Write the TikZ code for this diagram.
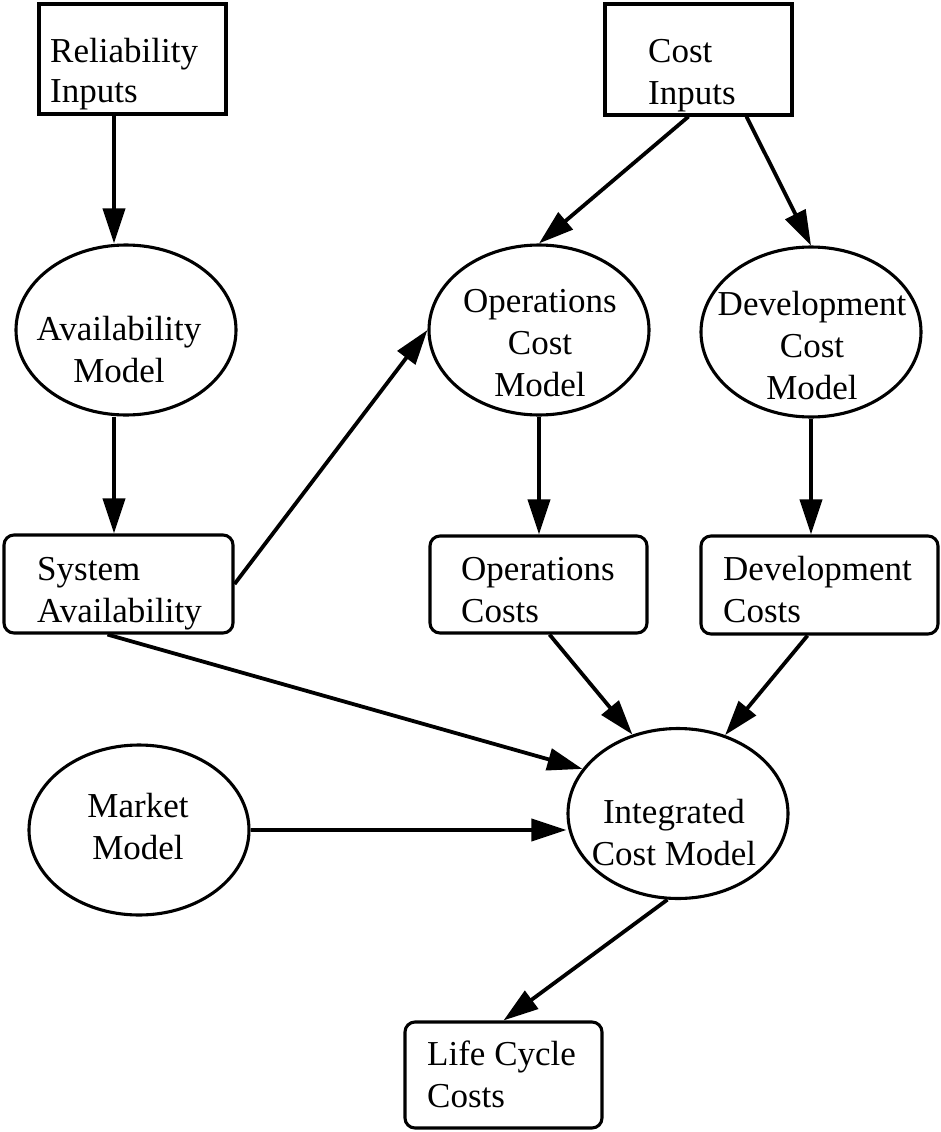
\documentclass[tikz,border=0pt]{standalone}
\usepackage{fontspec}
\setmainfont{Liberation Serif}
\usetikzlibrary{arrows.meta,shapes.geometric}

% multi-line labels whose baseline is the first line's baseline
\newcommand{\Lrows}[1]{\begin{tabular}[t]{@{}l@{}}#1\end{tabular}}
\newcommand{\Crows}[1]{\begin{tabular}[t]{@{}c@{}}#1\end{tabular}}

\begin{document}
\begin{tikzpicture}[x=1pt,y=-1pt,
  sqbox/.style={draw, line width=3.1pt, rectangle, inner sep=0pt},
  rbox/.style={draw, line width=3.1pt, rectangle, rounded corners=10pt, inner sep=0pt},
  oval/.style={draw, line width=3.1pt, ellipse, inner sep=0pt,
               minimum width=220pt, minimum height=170pt},
  txt/.style={inner sep=0pt, font=\fontsize{35}{42}\selectfont},
  arr/.style={line width=3.8pt, -{Triangle[length=35pt,width=22pt]}}
]
\useasboundingbox (0,0) rectangle (940,1132);

% inputs
\node[sqbox, minimum width=187pt, minimum height=110pt] (ri) at (132.5,59) {};
\node[txt, anchor=base west, font=\fontsize{35}{40}\selectfont] (ri-t) at (50,63) {\Lrows{Reliability\\Inputs}};
\node[sqbox, minimum width=187pt, minimum height=111pt] (ci) at (698.5,59.5) {};
\node[txt, anchor=base west] (ci-t) at (648,63) {\Lrows{Cost\\Inputs}};

% models
\node[oval] (am) at (126,330) {};
\node[txt, anchor=base] (am-t) at (119,340) {\Crows{Availability\\Model}};
\node[oval] (om) at (539,330) {};
\node[txt, anchor=base] (om-t) at (540,312) {\Crows{Operations\\Cost\\Model}};
\node[oval] (dm) at (811,332) {};
\node[txt, anchor=base] (dm-t) at (812,315) {\Crows{Development\\Cost\\Model}};

% intermediate results
\node[rbox, minimum width=229pt, minimum height=98pt] (sa) at (118.5,584) {};
\node[txt, anchor=base west] (sa-t) at (37,580) {\Lrows{System\\Availability}};
\node[rbox, minimum width=217pt, minimum height=97pt] (oc) at (538.5,584.5) {};
\node[txt, anchor=base west] (oc-t) at (461,580) {\Lrows{Operations\\Costs}};
\node[rbox, minimum width=237pt, minimum height=98pt] (dc) at (819.5,585) {};
\node[txt, anchor=base west] (dc-t) at (723,580) {\Lrows{Development\\Costs}};

% market and integration
\node[oval] (mm) at (139,830) {};
\node[txt, anchor=base] (mm-t) at (138,817) {\Crows{Market\\Model}};
\node[oval] (im) at (678,813.5) {};
\node[txt, anchor=base] (im-t) at (674,823) {\Crows{Integrated\\Cost Model}};

% output
\node[rbox, minimum width=197pt, minimum height=106pt] (lc) at (503.5,1075) {};
\node[txt, anchor=base west] (lc-t) at (427,1065) {\Lrows{Life Cycle\\Costs}};

% left column of vertical arrows
\coordinate (colA) at (114,0);

% connectors
\draw[arr] (ri.south -| colA) -- (am.north -| colA);
\draw[arr] (am.south -| colA) -- (sa.north -| colA);
\draw[arr] (sa.east) -- (om.west);
\draw[arr] ([xshift=-10pt]ci.south) -- (om.north);
\draw[arr] ([xshift=48pt]ci.south) -- (dm.north);
\draw[arr] (om.south) -- (om.south |- oc.north);
\draw[arr] (dm.south) -- (dm.south |- dc.north);
\draw[arr] ([xshift=-11pt]sa.south) -- (im.155);
\draw[arr] ([xshift=11pt]oc.south) -- (im.120);
\draw[arr] ([xshift=-12pt]dc.south) -- (im.59);
\draw[arr] (mm.east) -- (mm.east -| im.west);
\draw[arr] (im.263) -- (lc.north);
\end{tikzpicture}
\end{document}
